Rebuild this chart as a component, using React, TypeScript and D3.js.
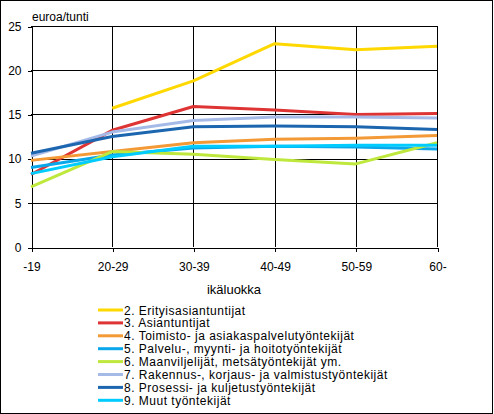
import { useEffect, useRef } from 'react'
import * as d3 from 'd3'

const categories = ['-19', '20-29', '30-39', '40-49', '50-59', '60-']

const seriesNames = [
  '2. Erityisasiantuntijat',
  '3. Asiantuntijat',
  '4. Toimisto- ja asiakaspalvelutyöntekijät',
  '5. Palvelu-, myynti- ja hoitotyöntekijät',
  '6. Maanviljelijät, metsätyöntekijät ym.',
  '7. Rakennus-, korjaus- ja valmistustyöntekijät',
  '8. Prosessi- ja kuljetustyöntekijät',
  '9. Muut työntekijät',
]

const s2 = [null, 15.7, 18.8, 23.0, 22.3, 22.7]
const s3 = [8.2, 13.2, 15.9, 15.5, 15.0, 15.1]
const s4 = [9.8, 10.8, 11.8, 12.2, 12.3, 12.6]
const s5 = [9.0, 10.4, 11.2, 11.4, 11.3, 11.1]
const s6 = [6.8, 10.8, 10.5, 9.9, 9.4, 11.8]
const s7 = [10.3, 13.0, 14.3, 14.7, 14.7, 14.6]
const s8 = [10.6, 12.5, 13.6, 13.7, 13.6, 13.3]
const s9 = [8.3, 10.2, 11.4, 11.4, 11.5, 11.5]

const seriesValues: (number | null)[][] = [s2, s3, s4, s5, s6, s7, s8, s9]

const colors = [
  '#FFD800', '#DE3434', '#F39A36', '#0AA8EA',
  '#BEE83C', '#A6BAE8', '#1C66B0', '#00CCFF',
]

const yTicks = [0, 5, 10, 15, 20, 25]

const WIDTH = 494
const HEIGHT = 414
const FONT = '"Liberation Sans", Arial, sans-serif'

export default function App() {
  const svgRef = useRef<SVGSVGElement>(null)

  useEffect(() => {
    if (!svgRef.current) return
    const svg = d3.select(svgRef.current)
    svg.selectAll('*').remove()

    const left = 31, right = 437, top = 26, bottom = 247

    const x = d3.scalePoint<string>().domain(categories).range([left, right])
    const y = d3.scaleLinear().domain([0, 25]).range([bottom, top])

    // outer frame
    svg.append('rect')
      .attr('x', 0.5).attr('y', 0.5)
      .attr('width', 492).attr('height', 412.5)
      .attr('fill', '#fff').attr('stroke', '#000')
      .attr('shape-rendering', 'crispEdges')

    // horizontal grid
    svg.append('g')
      .attr('shape-rendering', 'crispEdges')
      .selectAll('line')
      .data(yTicks.slice(1))
      .enter().append('line')
      .attr('x1', left).attr('x2', right)
      .attr('y1', d => Math.round(y(d)) + 0.5)
      .attr('y2', d => Math.round(y(d)) + 0.5)
      .attr('stroke', '#000')

    // vertical grid
    svg.append('g')
      .attr('shape-rendering', 'crispEdges')
      .selectAll('line')
      .data(categories.slice(1))
      .enter().append('line')
      .attr('x1', d => Math.round(x(d) || 0) + 0.5)
      .attr('x2', d => Math.round(x(d) || 0) + 0.5)
      .attr('y1', top).attr('y2', bottom)
      .attr('stroke', '#000')

    // Y axis
    const yAxis = svg.append('g')
      .attr('transform', `translate(${left + 0.5},0.5)`)
      .attr('shape-rendering', 'crispEdges')
      .call(d3.axisLeft(y).tickValues(yTicks).tickSize(4).tickPadding(6).tickSizeOuter(0))
    yAxis.selectAll('text')
      .attr('font-family', FONT).attr('font-size', 12).attr('fill', '#000')

    // X axis
    const xAxis = svg.append('g')
      .attr('transform', `translate(0.5,${bottom + 0.5})`)
      .attr('shape-rendering', 'crispEdges')
      .call(d3.axisBottom(x).tickSize(4).tickPadding(11).tickSizeOuter(0))
    xAxis.selectAll('text')
      .attr('font-family', FONT).attr('font-size', 12).attr('fill', '#000')
    svg.selectAll('.domain').attr('stroke', '#000')
    svg.selectAll('.tick line').attr('stroke', '#000')

    // axis titles
    svg.append('text')
      .attr('x', 32).attr('y', 21)
      .attr('font-family', FONT).attr('font-size', 12)
      .text('euroa/tunti')

    svg.append('text')
      .attr('x', (left + right) / 2).attr('y', 294)
      .attr('text-anchor', 'middle')
      .attr('font-family', FONT).attr('font-size', 13)
      .text('ikäluokka')

    // lines
    const line = d3.line<number | null>()
      .defined(d => d !== null)
      .x((_, i) => x(categories[i]) || 0)
      .y(d => y(d as number))

    seriesValues.forEach((vals, i) => {
      svg.append('path')
        .datum(vals)
        .attr('fill', 'none')
        .attr('stroke', colors[i])
        .attr('stroke-width', 3)
        .attr('stroke-linejoin', 'round')
        .attr('d', line)
    })

    // legend
    const legend = svg.append('g')
    seriesNames.forEach((name, i) => {
      const ly = 310 + i * 12.9
      legend.append('line')
        .attr('x1', 98).attr('x2', 123)
        .attr('y1', ly).attr('y2', ly)
        .attr('stroke', colors[i]).attr('stroke-width', 3)
      legend.append('text')
        .attr('x', 124).attr('y', ly + 4.5)
        .attr('font-family', FONT).attr('font-size', 12)
        .attr('letter-spacing', 0.5)
        .text(name)
    })
  }, [])

  return (
    <svg
      ref={svgRef}
      width={WIDTH}
      height={HEIGHT}
      style={{ position: 'absolute', left: 0, top: 0 }}
    />
  )
}
